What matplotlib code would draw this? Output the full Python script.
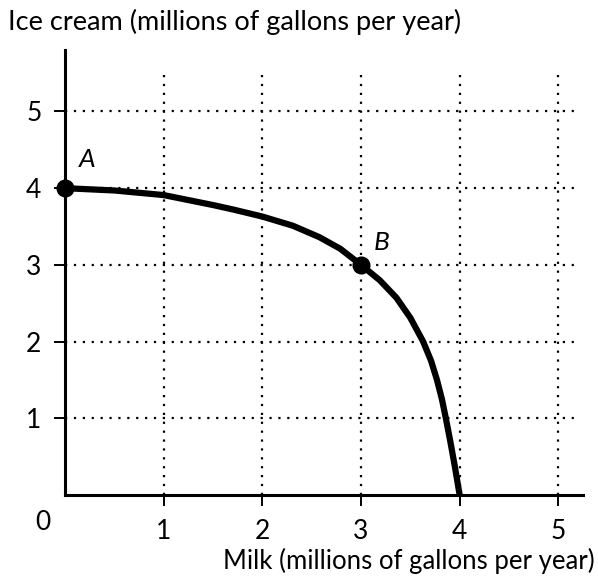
import matplotlib.pyplot as plt

plt.rcParams['font.family'] = ['Lato', 'DejaVu Sans']

# frontier points (milk, ice cream)
milk = [0, 0.5, 1.0, 1.5, 1.71, 2.0, 2.31, 2.58, 2.79, 3.0, 3.19, 3.36,
        3.50, 3.63, 3.71, 3.77, 3.82, 3.86, 3.905, 3.95, 4.0]
ice_cream = [4.0, 3.97, 3.91, 3.78, 3.72, 3.63, 3.51, 3.36, 3.21, 3.0, 2.80, 2.57,
             2.31, 2.0, 1.75, 1.5, 1.25, 1.0, 0.7, 0.38, 0.0]

points = ["A", "B"]
point_x = [0, 3]
point_y = [4, 3]

ticks = [1, 2, 3, 4, 5]
tick_labels = ["1", "2", "3", "4", "5"]

fig = plt.figure(figsize=(5.98, 5.8), dpi=100)
ax = fig.add_axes([0.1087, 0.1466, 0.8662, 0.767])
ax.set_xlim(0, 5.25)
ax.set_ylim(0, 5.8)

# dotted grid
ax.vlines(ticks, 0, 5.54, colors="black", linestyles=(0, (1, 3)), linewidth=1.6)
ax.hlines(ticks, 0, 5.18, colors="black", linestyles=(0, (1, 3)), linewidth=1.6)

ax.plot(milk, ice_cream, color="black", linewidth=4.5,
        solid_joinstyle="round", solid_capstyle="butt", zorder=3)
ax.plot(point_x, point_y, "o", color="black", markersize=12, zorder=4, clip_on=False)

ax.text(0.22, 4.37, points[0], fontsize=19, style="italic", ha="center", va="center")
ax.text(3.21, 3.29, points[1], fontsize=19, style="italic", ha="center", va="center")

for s in ["top", "right"]:
    ax.spines[s].set_visible(False)
for s in ["left", "bottom"]:
    ax.spines[s].set_linewidth(2.2)

ax.set_xticks(ticks)
ax.set_xticklabels(tick_labels, fontsize=19)
ax.set_yticks(ticks)
ax.set_yticklabels(tick_labels, fontsize=19)
ax.tick_params(axis="both", direction="out", length=8, width=1.4, pad=9)
ax.text(-0.22, -0.36, "0", fontsize=19, ha="center", va="center")

fig.text(0.013, 0.962, "Ice cream (millions of gallons per year)", fontsize=19.5,
         ha="left", va="center")
fig.text(0.995, 0.032, "Milk (millions of gallons per year)", fontsize=18.5,
         ha="right", va="center")

fig.savefig("out.png", dpi=100)
